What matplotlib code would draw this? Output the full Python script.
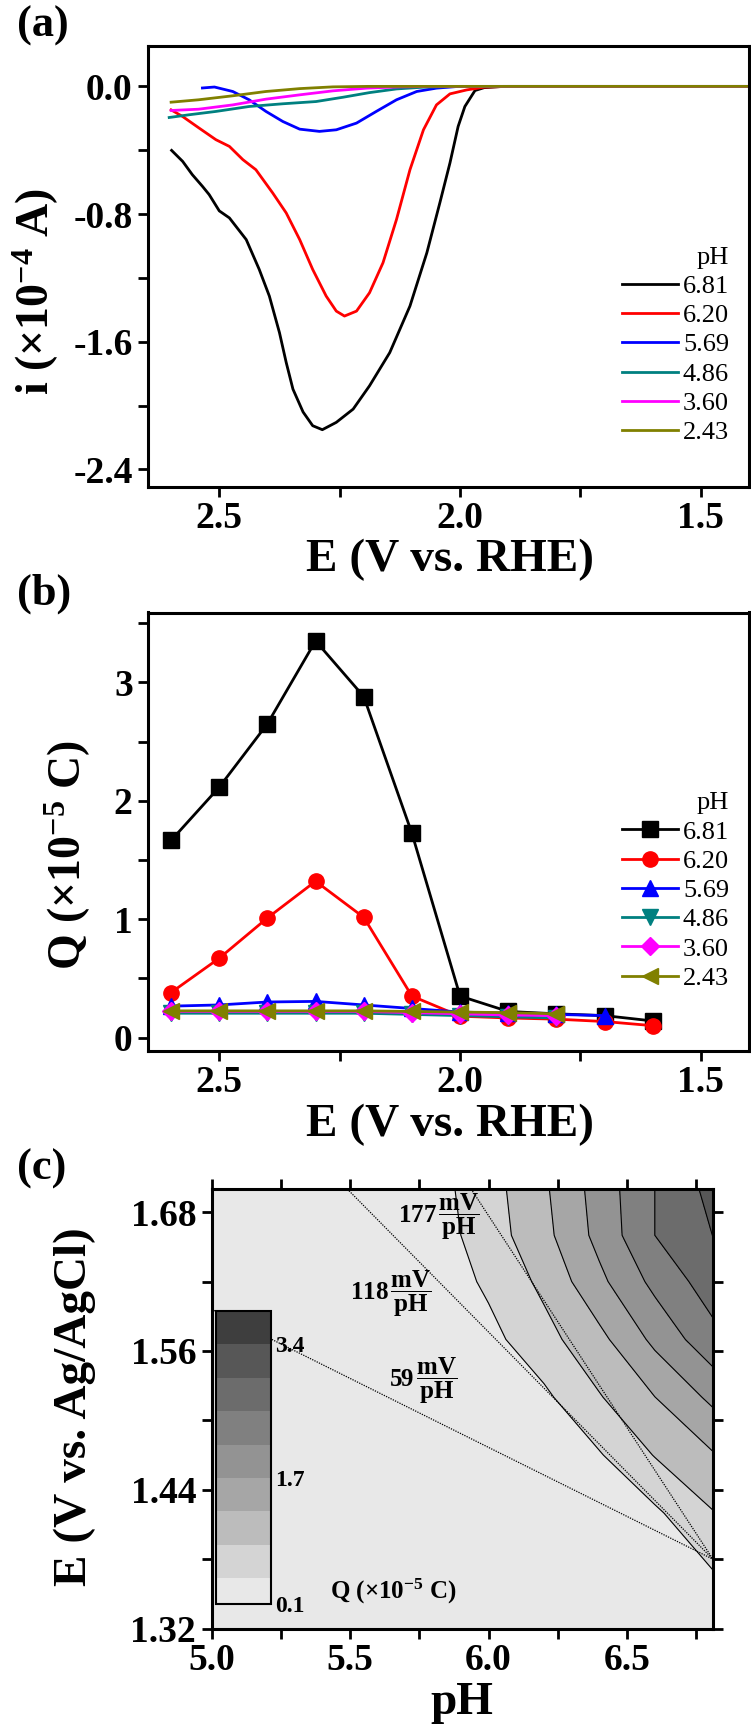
import numpy as np
import matplotlib
matplotlib.use('Agg')
import matplotlib.pyplot as plt
from matplotlib.ticker import MultipleLocator, FormatStrFormatter

plt.rcParams['font.family'] = ['Liberation Serif', 'DejaVu Serif']
plt.rcParams['font.weight'] = 'bold'
plt.rcParams['mathtext.fontset'] = 'custom'
plt.rcParams['mathtext.rm'] = 'Liberation Serif:bold'
plt.rcParams['mathtext.bf'] = 'Liberation Serif:bold'
plt.rcParams['mathtext.it'] = 'Liberation Serif:bold'
plt.rcParams['axes.unicode_minus'] = False

# ---- (a) current vs potential, one curve per pH
E_681 = [2.599, 2.576, 2.556, 2.535, 2.521, 2.50, 2.479, 2.444, 2.417, 2.396, 2.375, 2.361, 2.347, 2.326,
         2.306, 2.286, 2.257, 2.222, 2.188, 2.146, 2.104, 2.069, 2.042, 2.021, 2.004, 1.99, 1.969, 1.95, 1.91, 1.4]
i_681 = [-0.401, -0.47, -0.553, -0.626, -0.678, -0.78, -0.824, -0.96, -1.147, -1.314, -1.543, -1.73, -1.897, -2.04,
         -2.126, -2.151, -2.105, -2.022, -1.876, -1.668, -1.376, -1.043, -0.73, -0.48, -0.251, -0.126, -0.026, -0.008, 0.0, 0.0]
E_620 = [2.60, 2.576, 2.542, 2.507, 2.479, 2.451, 2.424, 2.389, 2.361, 2.333, 2.306, 2.278, 2.257, 2.24, 2.215,
         2.188, 2.16, 2.132, 2.104, 2.076, 2.049, 2.021, 1.986, 1.95, 1.90, 1.4]
i_620 = [-0.147, -0.189, -0.261, -0.334, -0.376, -0.459, -0.522, -0.668, -0.793, -0.96, -1.147, -1.314, -1.408,
         -1.439, -1.408, -1.293, -1.105, -0.834, -0.522, -0.272, -0.116, -0.047, -0.022, -0.005, 0.0, 0.0]
E_569 = [2.535, 2.51, 2.472, 2.438, 2.403, 2.368, 2.333, 2.292, 2.257, 2.215, 2.174, 2.132, 2.09, 2.049, 2.007, 1.95, 1.4]
i_569 = [-0.01, -0.004, -0.032, -0.084, -0.157, -0.22, -0.268, -0.282, -0.272, -0.23, -0.157, -0.084, -0.032,
         -0.011, -0.001, 0.0, 0.0]
E_486 = [2.604, 2.563, 2.507, 2.438, 2.368, 2.299, 2.243, 2.188, 2.132, 2.076, 2.0, 1.4]
i_486 = [-0.195, -0.178, -0.157, -0.126, -0.109, -0.095, -0.068, -0.039, -0.016, -0.005, 0.0, 0.0]
E_360 = [2.60, 2.543, 2.472, 2.403, 2.333, 2.264, 2.194, 2.125, 2.05, 1.4]
i_360 = [-0.151, -0.143, -0.116, -0.08, -0.053, -0.028, -0.011, -0.003, 0.0, 0.0]
E_243 = [2.60, 2.543, 2.472, 2.403, 2.333, 2.264, 2.19, 1.4]
i_243 = [-0.099, -0.084, -0.059, -0.032, -0.014, -0.003, 0.0, 0.0]

# ---- (b) charge vs potential
E_q = [2.6, 2.5, 2.4, 2.3, 2.2, 2.1, 2.0, 1.9, 1.8, 1.7, 1.6]
Q_681 = [1.665, 2.115, 2.65, 3.35, 2.88, 1.725, 0.35, 0.22, 0.20, 0.185, 0.14]
Q_620 = [0.38, 0.67, 1.01, 1.32, 1.015, 0.35, 0.18, 0.165, 0.155, 0.135, 0.10]
Q_569 = [0.265, 0.275, 0.30, 0.305, 0.275, 0.245, 0.215, 0.205, 0.195, 0.185]
Q_486 = [0.205, 0.205, 0.205, 0.205, 0.205, 0.195, 0.185, 0.175, 0.165]
Q_360 = [0.22, 0.22, 0.22, 0.22, 0.22, 0.21, 0.2, 0.19, 0.185]
Q_243 = [0.225, 0.225, 0.225, 0.225, 0.225, 0.22, 0.215, 0.21, 0.20]

ph_labels = ['6.81', '6.20', '5.69', '4.86', '3.60', '2.43']
colors = ['#000000', '#ff0000', '#0000ff', '#008080', '#ff00ff', '#808000']
markers = ['s', 'o', '^', 'v', 'D', '<']

# ---- (c) charge map over pH / potential
pH_grid = [5.0, 5.8, 6.0, 6.2, 6.4, 6.6, 6.81]
E_grid = [1.32, 1.37, 1.42, 1.47, 1.52, 1.57, 1.62, 1.66, 1.70]
Q_grid = [
    [0.1, 0.1, 0.1, 0.1, 0.1, 0.1, 0.2],
    [0.1, 0.1, 0.1, 0.1, 0.1, 0.15, 0.42],
    [0.1, 0.1, 0.1, 0.12, 0.2, 0.35, 0.83],
    [0.1, 0.1, 0.12, 0.2, 0.39, 0.87, 1.24],
    [0.1, 0.1, 0.18, 0.34, 0.82, 1.27, 1.80],
    [0.1, 0.12, 0.3, 0.7, 1.16, 1.80, 2.42],
    [0.1, 0.15, 0.5, 0.95, 1.60, 2.24, 2.77],
    [0.1, 0.21, 0.64, 1.15, 1.83, 2.55, 2.98],
    [0.1, 0.26, 0.68, 1.21, 1.88, 2.55, 3.11],
]
q_levels = [0.1, 0.425, 0.85, 1.275, 1.7, 2.125, 2.55, 2.975, 3.4, 3.825]
band_colors = ['#e8e8e8', '#d4d4d4', '#bcbcbc', '#a6a6a6', '#939393', '#808080', '#6c6c6c', '#575757', '#3e3e3e']
slope_pH = {'59': [5.0, 6.81], '118': [5.49, 6.81], '177': [5.937, 6.81]}
slope_E = {'59': [1.596, 1.38], '118': [1.70, 1.38], '177': [1.70, 1.38]}

W, H = 751, 1727
def box(l, t, r, b):
    return [l / W, 1 - b / H, (r - l) / W, (b - t) / H]

fig = plt.figure(figsize=(W / 100, H / 100), dpi=100)
axA = fig.add_axes(box(148, 46, 749, 487))
axB = fig.add_axes(box(148, 612.5, 749, 1051))
axC = fig.add_axes(box(211.5, 1189, 713, 1628.7))

def style(ax, all_sides=False):
    for s in ax.spines.values():
        s.set_linewidth(2.2)
    ax.tick_params(which='both', direction='out', width=2, length=7, labelsize=27)
    ax.tick_params(axis='x', pad=3)
    ax.tick_params(axis='y', pad=4)
    if all_sides:
        ax.tick_params(which='both', top=True, right=True)
    for lab in ax.get_xticklabels() + ax.get_yticklabels():
        lab.set_fontweight('bold')

legend_prop = {'family': 'Liberation Serif', 'weight': 'normal', 'size': 19}
legend_kw = dict(title='pH', prop=legend_prop, title_fontproperties=legend_prop, frameon=False,
                 loc='upper right', borderpad=0, borderaxespad=0, handlelength=2.1,
                 handletextpad=0.2, labelspacing=0.22, alignment='right')

# (a)
curves = [(E_681, i_681), (E_620, i_620), (E_569, i_569), (E_486, i_486), (E_360, i_360), (E_243, i_243)]
for (x, y), c, lab in zip(curves, colors, ph_labels):
    axA.plot(x, y, color=c, lw=2.0, label=lab)
axA.set_xlim(2.648, 1.4)
axA.set_ylim(-2.51, 0.253)
axA.xaxis.set_major_locator(MultipleLocator(0.5))
axA.xaxis.set_minor_locator(MultipleLocator(0.25))
axA.yaxis.set_major_locator(MultipleLocator(0.8))
axA.yaxis.set_minor_locator(MultipleLocator(0.4))
axA.xaxis.set_major_formatter(FormatStrFormatter('%.1f'))
axA.yaxis.set_major_formatter(FormatStrFormatter('%.1f'))
style(axA)
axA.set_xlabel('E (V vs. RHE)', fontsize=34, fontweight='bold', va='center')
axA.xaxis.set_label_coords(0.502, -0.166)
axA.set_ylabel(r'i (×10$^{-4}$ A)', fontsize=33, fontweight='bold', va='center')
axA.yaxis.set_label_coords(-0.186, 0.443)
axA.legend(bbox_to_anchor=(0.967, 0.545), **legend_kw)

# (b)
series = [Q_681, Q_620, Q_569, Q_486, Q_360, Q_243]
for q, c, m, lab in zip(series, colors, markers, ph_labels):
    ms = 9 if m == 'D' else 11
    axB.plot(E_q[:len(q)], q, color=c, lw=2.0, marker=m, ms=ms, label=lab)
axB.set_xlim(2.648, 1.4)
axB.set_ylim(-0.114, 3.59)
axB.xaxis.set_major_locator(MultipleLocator(0.5))
axB.xaxis.set_minor_locator(MultipleLocator(0.25))
axB.yaxis.set_major_locator(MultipleLocator(1))
axB.yaxis.set_minor_locator(MultipleLocator(0.5))
axB.xaxis.set_major_formatter(FormatStrFormatter('%.1f'))
style(axB)
axB.set_xlabel('E (V vs. RHE)', fontsize=34, fontweight='bold', va='center')
axB.xaxis.set_label_coords(0.502, -0.168)
axB.set_ylabel(r'Q (×10$^{-5}$ C)', fontsize=33, fontweight='bold', va='center')
axB.yaxis.set_label_coords(-0.133, 0.447)
axB.legend(bbox_to_anchor=(0.967, 0.59), **legend_kw)

# (c)
axC.set_facecolor(band_colors[0])
cf = axC.contourf(pH_grid, E_grid, Q_grid, levels=q_levels, colors=band_colors)
axC.contour(pH_grid, E_grid, Q_grid, levels=q_levels[1:-1], colors='k', linewidths=0.8)
for key in ['59', '118', '177']:
    axC.plot(slope_pH[key], slope_E[key], color='k', lw=0.9, ls=(0, (1, 1)))
axC.text(5.672, 1.676, r'177$\,\dfrac{mV}{pH}$', fontsize=18, va='center', ha='left')
axC.text(5.50, 1.610, r'118$\,\dfrac{mV}{pH}$', fontsize=18, va='center', ha='left')
axC.text(5.64, 1.534, r'59$\,\dfrac{mV}{pH}$', fontsize=18, va='center', ha='left')
axC.set_xlim(5.0, 6.81)
axC.set_ylim(1.32, 1.70)
axC.xaxis.set_major_locator(MultipleLocator(0.5))
axC.xaxis.set_minor_locator(MultipleLocator(0.25))
axC.xaxis.set_major_formatter(FormatStrFormatter('%.1f'))
axC.yaxis.set_major_formatter(FormatStrFormatter('%.2f'))
axC.set_yticks([1.32, 1.44, 1.56, 1.68])
axC.set_yticks([1.38, 1.50, 1.62], minor=True)
style(axC, all_sides=True)
axC.set_xlabel('pH', fontsize=34, fontweight='bold', va='center')
axC.xaxis.set_label_coords(0.5, -0.17)
axC.set_ylabel('E (V vs. Ag/AgCl)', fontsize=34, fontweight='bold', va='center')
axC.yaxis.set_label_coords(-0.273, 0.504)

cax = fig.add_axes(box(216, 1310.7, 270.7, 1604))
cb = fig.colorbar(cf, cax=cax, spacing='proportional', ticks=[0.1, 1.7, 3.4])
cb.outline.set_linewidth(1.5)
cax.tick_params(length=0, labelsize=17, pad=3)
cax.set_yticklabels(['0.1', '1.7', '3.4'], fontweight='bold')
fig.text(393 / W, 1 - 1591 / H, r'Q (×10$^{-5}$ C)', fontsize=18, ha='center', va='center')

# panel letters
fig.text(17 / W, 1 - 26 / H, '(a)', fontsize=32, va='center')
fig.text(17 / W, 1 - 594 / H, '(b)', fontsize=32, va='center')
fig.text(17 / W, 1 - 1169 / H, '(c)', fontsize=32, va='center')

fig.savefig('out.png', dpi=100)
